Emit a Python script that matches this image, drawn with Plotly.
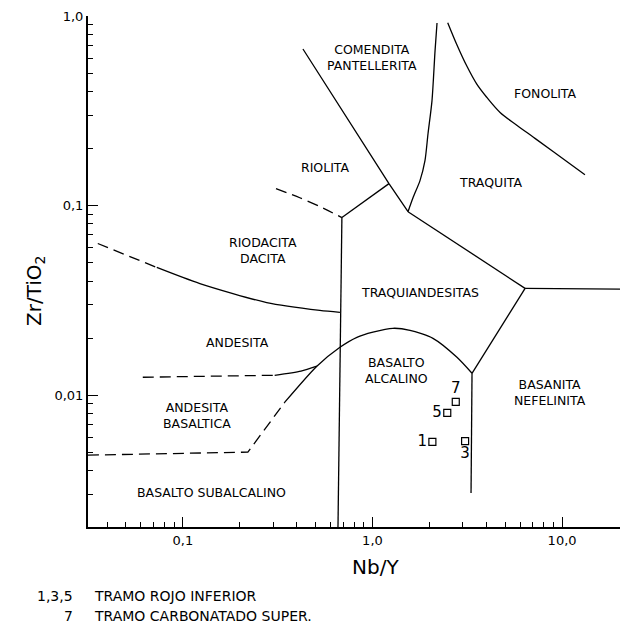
import numpy as np
import plotly.graph_objects as go

# ---------------- data ----------------
# sample points (Nb/Y, Zr/TiO2)
sample_labels = ["1", "3", "5", "7"]
sample_nby = [2.07, 3.08, 2.48, 2.75]
sample_zrti = [0.00568, 0.00573, 0.00807, 0.00922]

# field boundaries (Nb/Y, Zr/TiO2)
b_vertical_x = [0.69, 0.658]
b_vertical_y = [0.0865, 0.00202]

b_riol_junction_x = [0.69, 1.222]
b_riol_junction_y = [0.0865, 0.1306]

b_comendita_x = [0.430, 1.222, 1.54]
b_comendita_y = [0.670, 0.1306, 0.0929]

b_pantell_x = [1.54, 1.636, 1.781, 1.892, 1.963, 2.06, 2.138, 2.19]
b_pantell_y = [0.0929, 0.110, 0.1355, 0.1725, 0.2393, 0.357, 0.655, 0.918]

b_traq_x = [1.54, 6.38]
b_traq_y = [0.0929, 0.0366]

b_traq_right_x = [6.38, 20.2]
b_traq_right_y = [0.0366, 0.0363]

b_basan_x = [6.38, 3.35]
b_basan_y = [0.0366, 0.01305]

b_basan_down_x = [3.35, 3.31]
b_basan_down_y = [0.01305, 0.00305]

b_fonol_x = [2.494, 2.78, 3.14, 3.55, 4.01, 4.71, 5.77, 7.06, 9.0, 13.2]
b_fonol_y = [0.922, 0.710, 0.546, 0.437, 0.372, 0.310, 0.2655, 0.2294, 0.1923, 0.1455]

b_arc_x = [0.345, 0.509, 0.674, 0.828, 1.006, 1.282, 1.578, 2.085, 2.79, 3.35]
b_arc_y = [0.00919, 0.01422, 0.0179, 0.0202, 0.0215, 0.02254, 0.0220, 0.01995, 0.01585, 0.01305]

b_subalc_dash_x = [0.0316, 0.2203, 0.345]
b_subalc_dash_y = [0.00483, 0.00501, 0.00919]

b_and_dash_x = [0.0615, 0.305]
b_and_dash_y = [0.01244, 0.01274]
b_and_solid_x = [0.305, 0.42, 0.509]
b_and_solid_y = [0.01274, 0.0134, 0.01422]

b_dac_dash_x = [0.0356, 0.0729]
b_dac_dash_y = [0.0631, 0.0472]
b_dac_solid_x = [0.0729, 0.123, 0.277, 0.528, 0.674]
b_dac_solid_y = [0.0472, 0.0388, 0.0308, 0.0280, 0.02735]

b_riol_dash_x = [0.310, 0.414, 0.528, 0.69]
b_riol_dash_y = [0.1228, 0.110, 0.0989, 0.0865]

# field names and their positions
field_names = ["COMENDITA<br>PANTELLERITA", "FONOLITA", "RIOLITA", "TRAQUITA",
               "RIODACITA<br>DACITA", "TRAQUIANDESITAS", "ANDESITA",
               "BASALTO<br>ALCALINO", "BASANITA<br>NEFELINITA",
               "ANDESITA<br>BASALTICA", "BASALTO SUBALCALINO"]
field_x = [0.993, 8.13, 0.568, 4.17, 0.264, 1.78, 0.195, 1.346, 8.65, 0.1186, 0.142]
field_y = [0.601, 0.388, 0.1585, 0.132, 0.058, 0.0348, 0.019, 0.01355, 0.01037, 0.00785, 0.00305]

x_tick_vals = [0.1, 1.0, 10.0]
x_tick_text = ["0,1", "1,0", "10,0"]
y_tick_vals = [0.01, 0.1, 1.0]
y_tick_text = ["0,01", "0,1", "1,0"]

# ---------------- figure ----------------
FONT = "DejaVu Sans"
fig = go.Figure()

def add_line(xs, ys, dash="solid", spline=False, smoothing=0.7):
    fig.add_trace(go.Scatter(
        x=xs, y=ys, mode="lines",
        line=dict(color="black", width=1.3, dash=dash,
                  shape="spline" if spline else "linear", smoothing=smoothing),
        hoverinfo="skip", showlegend=False))

DASH = "11px,6px"
add_line(b_vertical_x, b_vertical_y)
add_line(b_riol_junction_x, b_riol_junction_y)
add_line(b_comendita_x, b_comendita_y)
add_line(b_pantell_x, b_pantell_y, spline=True)
add_line(b_traq_x, b_traq_y)
add_line(b_traq_right_x, b_traq_right_y)
add_line(b_basan_x, b_basan_y)
add_line(b_basan_down_x, b_basan_down_y)
add_line(b_fonol_x, b_fonol_y, spline=True, smoothing=1.0)
add_line(b_arc_x, b_arc_y, spline=True)
add_line(b_subalc_dash_x, b_subalc_dash_y, dash=DASH)
add_line(b_and_dash_x, b_and_dash_y, dash=DASH)
add_line(b_and_solid_x, b_and_solid_y, spline=True)
add_line(b_dac_dash_x, b_dac_dash_y, dash=DASH)
add_line(b_dac_solid_x, b_dac_solid_y, spline=True)
add_line(b_riol_dash_x, b_riol_dash_y, dash=DASH, spline=True)

# samples
fig.add_trace(go.Scatter(
    x=sample_nby, y=sample_zrti, mode="markers+text",
    marker=dict(symbol="square-open", size=7, color="black", line=dict(width=1.2)),
    text=sample_labels,
    textposition=["middle left", "bottom center", "middle left", "top center"],
    textfont=dict(family=FONT, size=15, color="black"),
    showlegend=False, hoverinfo="skip"))

# field labels
for name, fx, fy in zip(field_names, field_x, field_y):
    fig.add_annotation(x=np.log10(fx), y=np.log10(fy), xref="x", yref="y",
                       text=name, showarrow=False, align="center",
                       xanchor="center", yanchor="middle",
                       font=dict(family=FONT, size=12.5, color="black"))

# geometry of the plot area in pixels
W, H = 627, 630
L, R, T, B = 88, 7, 16, 103
pw, ph = W - L - R, H - T - B

def px2paper(px, py):
    return (px - L) / pw, (H - B - py) / ph

# axis titles
ax_, ay_ = px2paper(375, 567)
fig.add_annotation(x=ax_, y=ay_, xref="paper", yref="paper", text="Nb/Y",
                   xanchor="center", yanchor="middle",
                   showarrow=False, font=dict(family=FONT, size=20, color="black"))
ax_, ay_ = px2paper(35, 291)
fig.add_annotation(x=ax_, y=ay_, xref="paper", yref="paper", text="Zr/TiO<sub>2</sub>",
                   textangle=-90, showarrow=False, xanchor="center", yanchor="middle",
                   font=dict(family=FONT, size=20, color="black"))

# bottom legend text
for txt, px, py, anchor in [("1,3,5", 75, 596, "right"),
                            ("TRAMO ROJO INFERIOR", 92, 596, "left"),
                            ("7", 75, 616, "right"),
                            ("TRAMO CARBONATADO SUPER.", 92, 616, "left")]:
    ax_, ay_ = px2paper(px, py)
    fig.add_annotation(x=ax_, y=ay_, xref="paper", yref="paper", text=txt,
                       xanchor=anchor, yanchor="middle", showarrow=False,
                       font=dict(family=FONT, size=14, color="black"))

minor_x = [m * 10.0 ** e for e in (-2, -1, 0, 1) for m in range(2, 10)]
minor_y = [m * 10.0 ** e for e in (-3, -2, -1) for m in range(2, 10)]

fig.update_xaxes(type="log", range=[-1.5, np.log10(20.2)],
                 tickmode="array", tickvals=x_tick_vals, ticktext=x_tick_text,
                 ticks="inside", ticklen=10, tickwidth=1.2, tickcolor="black",
                 minor=dict(tickmode="array", tickvals=minor_x, ticks="inside",
                            ticklen=5, tickcolor="black", tickwidth=1, showgrid=False),
                 showline=True, linecolor="black", linewidth=2,
                 showgrid=False, zeroline=False,
                 tickfont=dict(family=FONT, size=13, color="black"))
fig.update_yaxes(type="log", range=[np.log10(0.002018), 0],
                 tickmode="array", tickvals=y_tick_vals, ticktext=y_tick_text,
                 ticks="inside", ticklen=10, tickwidth=1.2, tickcolor="black",
                 minor=dict(tickmode="array", tickvals=minor_y, ticks="inside",
                            ticklen=5, tickcolor="black", tickwidth=1, showgrid=False),
                 showline=True, linecolor="black", linewidth=2,
                 showgrid=False, zeroline=False,
                 tickfont=dict(family=FONT, size=13, color="black"))

fig.update_layout(width=W, height=H,
                  margin=dict(l=L, r=R, t=T, b=B, autoexpand=False),
                  paper_bgcolor="white", plot_bgcolor="white",
                  showlegend=False)

fig.write_html("out.html")
